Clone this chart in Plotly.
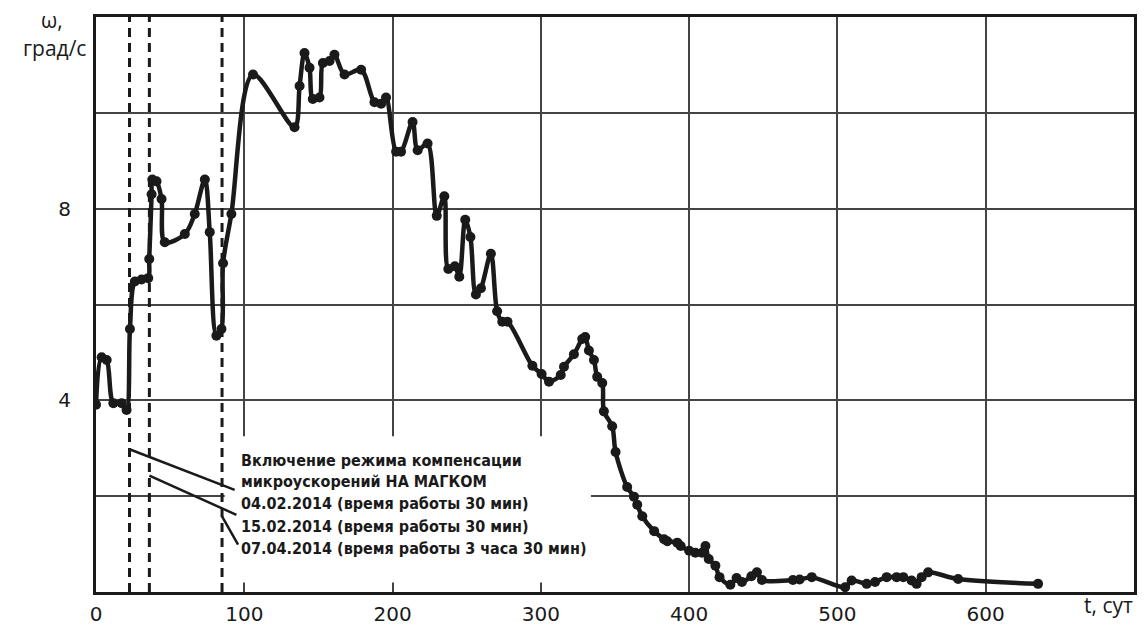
import plotly.graph_objects as go

# Angular velocity of the spacecraft, degrees per second, vs. days of flight
days = [0, 3.8, 7.2, 11.7, 17.3, 20.6, 22.9, 26.2, 30.7, 35.2, 35.9, 37.5, 38.0, 40.8,
        44.2, 46.4, 59.9, 66.6, 73.4, 76.7, 81.2, 84.6, 85.7, 91.3, 105.9, 133.9,
        137.3, 140.6, 144.0, 146.2, 150.7, 153.0, 157.5, 160.8, 167.6, 178.8, 187.8,
        192.3, 195.6, 202.4, 205.7, 213.5, 216.9, 223.6, 229.8, 234.9, 237.6, 242.0,
        245.0, 249.0, 252.5, 256.2, 259.6, 266.3, 270.5, 274.0, 277.5, 294.3, 300.5,
        305.5, 313.4, 315.6, 322.3, 327.9, 329.9, 332.4, 335.8, 338.0, 341.4, 342.5,
        348.1, 350.4, 358.2, 362.8, 365.0, 368.4, 376.4, 383.1, 385.3, 392.0, 394.3,
        400.0, 404.2, 408.7, 411.0, 413.2, 417.7, 420.5, 427.8, 432.0, 435.6, 442.0,
        445.7, 449.1, 470.0, 474.5, 482.7, 505.2, 509.6, 519.7, 525.4, 533.2, 539.9,
        544.4, 550.0, 553.4, 556.8, 561.2, 581.4, 635.3]
omega = [3.91, 4.90, 4.84, 3.94, 3.94, 3.80, 5.49, 6.48, 6.52, 6.55, 6.95, 8.30, 8.61, 8.57,
         8.20, 7.30, 7.47, 7.89, 8.61, 7.51, 5.35, 5.49, 6.86, 7.89, 10.80, 9.70,
         10.56, 11.25, 10.94, 10.29, 10.32, 11.04, 11.08, 11.21, 10.80, 10.90, 10.22,
         10.19, 10.32, 9.19, 9.19, 9.81, 9.22, 9.36, 7.85, 8.26, 6.74, 6.80,
         6.58, 7.77, 7.41, 6.21, 6.34, 7.06, 5.86, 5.64, 5.64, 4.72, 4.55,
         4.39, 4.53, 4.70, 4.96, 5.28, 5.32, 5.04, 4.84, 4.49, 4.36, 3.77,
         3.46, 2.92, 2.19, 1.99, 1.82, 1.58, 1.27, 1.10, 1.06, 1.03, 0.96,
         0.86, 0.82, 0.82, 0.96, 0.69, 0.55, 0.31, 0.15, 0.29, 0.21, 0.33,
         0.41, 0.25, 0.25, 0.26, 0.31, 0.10, 0.24, 0.17, 0.21, 0.31, 0.31,
         0.31, 0.24, 0.17, 0.31, 0.41, 0.27, 0.17]

# Days on which the microacceleration compensation mode was switched on
event_days = [22.6, 36.0, 85.0]

# Axis ticks
x_ticks = [0, 100, 200, 300, 400, 500, 600, 700]
x_tick_text = ["0", "100", "200", "300", "400", "500", "600", ""]
y_ticks = [0, 2, 4, 6, 8, 10, 12]
y_tick_text = ["", "", "4", "", "8", "", ""]

# Caption lines and their vertical positions (data units)
caption_lines = [
    "Включение режима компенсации",
    "микроускорений НА МАГКОМ",
    "04.02.2014 (время работы 30 мин)",
    "15.02.2014 (время работы 30 мин)",
    "07.04.2014 (время работы 3 часа 30 мин)",
]
caption_y = [2.75, 2.30, 1.84, 1.37, 0.90]
caption_x = 96.5

# Leader lines: from each event line to its caption row
leader_start_y = [2.98, 2.43, 1.58]
leader_end = [(93.5, 2.13), (94.7, 1.61), (95.8, 0.99)]

INK = "#1a1a1a"
W, H = 1144, 633
ML, MR, MT, MB = 96, 7, 17, 35

fig = go.Figure()

for d in event_days:
    fig.add_trace(go.Scatter(
        x=[d, d], y=[0, 12], mode="lines",
        line=dict(color=INK, width=3, dash="9px,6px"),
        hoverinfo="skip",
    ))

fig.add_trace(go.Scatter(
    x=days, y=omega, mode="lines+markers",
    line=dict(color=INK, width=4.5, shape="spline", smoothing=0.9),
    marker=dict(color=INK, size=10),
))

shapes = [
    # white panel behind the caption
    dict(type="rect", xref="x", yref="y", x0=86.8, x1=333.8, y0=0.2, y1=3.25,
         fillcolor="white", line=dict(width=0), layer="between"),
]
for d, ys, (xe, ye) in zip(event_days, leader_start_y, leader_end):
    shapes.append(dict(type="line", xref="x", yref="y", x0=d, y0=ys, x1=xe, y1=ye,
                       line=dict(color=INK, width=2.5), layer="above"))

annotations = []
for txt, yy in zip(caption_lines, caption_y):
    annotations.append(dict(
        x=caption_x, y=yy, xref="x", yref="y", xanchor="left", yanchor="middle",
        text="<b>" + txt + "</b>", showarrow=False,
        font=dict(family="DejaVu Sans Condensed, DejaVu Sans", size=16, color=INK),
    ))


def px_to_paper(px, py):
    return (px - ML) / (W - ML - MR), (H - py - MB) / (H - MT - MB)


for txt, (px, py), anchor in [("ω,", (52, 20), "center"),
                              ("град/с", (54, 48), "center"),
                              ("t, сут", (1138, 611), "right")]:
    ax, ay = px_to_paper(px, py)
    annotations.append(dict(
        x=ax, y=ay, xref="paper", yref="paper", text=txt, showarrow=False,
        xanchor=anchor, yanchor="middle",
        font=dict(family="Open Sans", size=21, color=INK),
    ))

fig.update_layout(
    width=W, height=H,
    margin=dict(l=ML, r=MR, t=MT, b=MB),
    paper_bgcolor="white", plot_bgcolor="white",
    showlegend=False,
    shapes=shapes,
    annotations=annotations,
)

fig.update_xaxes(
    range=[0, 700], tickvals=x_ticks, ticktext=x_tick_text,
    showgrid=True, gridcolor="#444444", gridwidth=1.5, zeroline=False,
    showline=True, mirror=True, linecolor=INK, linewidth=3,
    ticks="", ticklabelstandoff=2,
    tickfont=dict(family="DejaVu Sans", size=20, color=INK),
)
fig.update_yaxes(
    range=[0, 12], tickvals=y_ticks, ticktext=y_tick_text,
    showgrid=True, gridcolor="#444444", gridwidth=1.5, zeroline=False,
    showline=True, mirror=True, linecolor=INK, linewidth=3,
    ticks="", ticklabelstandoff=18,
    tickfont=dict(family="DejaVu Sans", size=20, color=INK),
)

fig.write_html("out.html")
